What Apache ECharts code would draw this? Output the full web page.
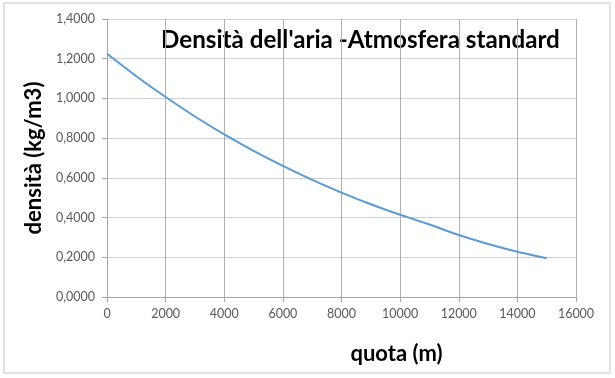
<!DOCTYPE html>
<html>
<head>
<meta charset="utf-8">
<style>
    html, body { margin: 0; padding: 0; background: #fff; }
    #chart { width: 615px; height: 378px; }
</style>
<script src="https://cdn.jsdelivr.net/npm/echarts@6/dist/echarts.min.js"></script>
</head>
<body>
<div id="chart"></div>
<script>
// quota (m) e densità (kg/m3) - atmosfera standard
const quota = [0, 1000, 2000, 3000, 4000, 5000, 6000, 7000, 8000, 9000, 10000, 11000, 12000, 13000, 14000, 15000];
const densita = [1.225, 1.112, 1.007, 0.909, 0.819, 0.736, 0.660, 0.590, 0.526, 0.467, 0.414, 0.365, 0.312, 0.267, 0.228, 0.195];

const chart = echarts.init(document.getElementById('chart'));
const font = 'Lato, "Open Sans", sans-serif';

const option = {
    animation: false,
    grid: { left: 107, right: 39, top: 19, bottom: 81 },
    // cornice esterna
    graphic: [{
        type: 'rect',
        shape: { x: 4, y: 3, width: 606, height: 370 },
        style: { fill: 'none', stroke: '#d9d9d9', lineWidth: 1.5 },
        silent: true
    }, {
        type: 'text',
        left: 161, top: 28,
        style: { text: "Densità dell'aria -Atmosfera standard", font: 'bold 24.2px ' + font, fill: '#000' }
    }],
    xAxis: {
        type: 'value',
        min: 0, max: 16000, interval: 2000,
        name: 'quota (m)',
        nameLocation: 'middle',
        nameGap: 46,
        nameTextStyle: { fontFamily: font, fontWeight: 'bold', fontSize: 22, color: '#000', padding: [0, 0, 0, 110] },
        axisLine: { lineStyle: { color: '#a6a6a6' } },
        axisTick: { show: true, length: 5, lineStyle: { color: '#a6a6a6' } },
        axisLabel: { fontFamily: font, fontSize: 12.5, color: '#595959', margin: 10, formatter: v => String(v) },
        splitLine: { show: true, lineStyle: { color: '#b0b0b0' } }
    },
    yAxis: {
        type: 'value',
        min: 0, max: 1.4, interval: 0.2,
        name: 'densità (kg/m3)',
        nameLocation: 'middle',
        nameGap: 60,
        nameRotate: 90,
        nameTextStyle: { fontFamily: font, fontWeight: 'bold', fontSize: 22, color: '#000' },
        axisLine: { show: true, lineStyle: { color: '#a6a6a6' } },
        axisTick: { show: true, length: 5, lineStyle: { color: '#a6a6a6' } },
        axisLabel: {
            fontFamily: font, fontSize: 12.5, color: '#595959', margin: 12,
            formatter: v => v.toFixed(4).replace('.', ',')
        },
        splitLine: { show: true, lineStyle: { color: '#d0d0d0' } }
    },
    series: [{
        type: 'line',
        data: quota.map((q, i) => [q, densita[i]]),
        showSymbol: false,
        smooth: 0.2,
        lineStyle: { color: '#5b9bd5', width: 2 }
    }]
};
chart.setOption(option);
</script>
</body>
</html>
